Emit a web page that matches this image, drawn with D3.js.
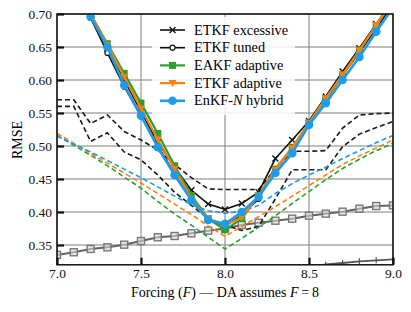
<!DOCTYPE html>
<html>
<head>
<meta charset="utf-8">
<script src="https://cdn.jsdelivr.net/npm/d3@7"></script>
<style>
  body { margin: 0; background: #fff; }
  svg text { font-family: "Liberation Serif", "DejaVu Serif", serif; }
</style>
</head>
<body>
<script>
var width = 411
var height = 312

// forcing values (x) for all series
var forcing = [7.0, 7.1, 7.2, 7.3, 7.4, 7.5, 7.6, 7.7, 7.8, 7.9, 8.0, 8.1, 8.2, 8.3, 8.4, 8.5, 8.6, 8.7, 8.8, 8.9, 9.0];

// solid lines with markers
var etkfExcessive = [0.80, 0.745, 0.697, 0.648, 0.600, 0.552, 0.505, 0.468, 0.433, 0.412, 0.404, 0.413, 0.430, 0.481, 0.509, 0.538, 0.575, 0.613, 0.648, 0.685, 0.720];
var etkfTuned     = [0.79, 0.740, 0.694, 0.641, 0.590, 0.545, 0.500, 0.458, 0.418, 0.388, 0.379, 0.395, 0.420, 0.465, 0.497, 0.535, 0.570, 0.607, 0.642, 0.678, 0.715];
var eakfAdaptive  = [0.80, 0.750, 0.700, 0.655, 0.610, 0.565, 0.519, 0.470, 0.425, 0.390, 0.373, 0.390, 0.425, 0.465, 0.498, 0.535, 0.572, 0.608, 0.645, 0.682, 0.720];
var etkfAdaptive  = [0.80, 0.750, 0.700, 0.653, 0.605, 0.557, 0.510, 0.465, 0.420, 0.390, 0.380, 0.392, 0.425, 0.464, 0.497, 0.535, 0.572, 0.608, 0.645, 0.683, 0.720];
var enkfHybrid    = [0.79, 0.745, 0.696, 0.650, 0.592, 0.546, 0.498, 0.456, 0.418, 0.388, 0.382, 0.400, 0.423, 0.459, 0.489, 0.532, 0.565, 0.600, 0.635, 0.673, 0.710];

// dashed reference lines
var blackDashA  = [0.570, 0.570, 0.534, 0.547, 0.522, 0.509, 0.494, 0.472, 0.452, 0.435, 0.434, 0.434, 0.434, 0.465, 0.492, 0.492, 0.493, 0.527, 0.547, 0.549, 0.550];
var blackDashB  = [0.560, 0.560, 0.507, 0.520, 0.491, 0.479, 0.456, 0.430, 0.410, 0.390, 0.380, 0.372, 0.378, 0.420, 0.464, 0.464, 0.464, 0.499, 0.518, 0.528, 0.537];
var greenDash   = [0.516, 0.501, 0.486, 0.470, 0.453, 0.436, 0.416, 0.397, 0.380, 0.362, 0.344, 0.360, 0.377, 0.394, 0.413, 0.431, 0.449, 0.466, 0.480, 0.493, 0.504];
var orangeDash  = [0.519, 0.504, 0.489, 0.474, 0.459, 0.444, 0.428, 0.412, 0.396, 0.379, 0.363, 0.378, 0.393, 0.408, 0.424, 0.440, 0.456, 0.472, 0.485, 0.497, 0.509];
var blueDash    = [0.515, 0.503, 0.491, 0.478, 0.465, 0.452, 0.438, 0.424, 0.411, 0.402, 0.398, 0.401, 0.410, 0.428, 0.443, 0.456, 0.468, 0.481, 0.493, 0.505, 0.516];

// gray lines
var graySquares = [0.335, 0.339, 0.344, 0.3465, 0.3505, 0.356, 0.3617, 0.3636, 0.3677, 0.3717, 0.375, 0.3803, 0.3838, 0.3868, 0.3899, 0.3944, 0.3975, 0.4005, 0.405, 0.409, 0.410];
var grayLowF = [8.4, 8.5, 8.6, 8.7, 8.8, 8.9, 9.0];
var grayLow  = [0.314, 0.317, 0.3205, 0.3227, 0.3253, 0.3268, 0.3283];

var xTicks = [7.0, 7.5, 8.0, 8.5, 9.0];
var yTicks = [0.35, 0.40, 0.45, 0.50, 0.55, 0.60, 0.65, 0.70];

var x = d3.scaleLinear().domain([7, 9]).range([57, 393]);
var y = d3.scaleLinear().domain([0.32, 0.70]).range([264.8, 14]);

var svg = d3.select("body").append("svg")
    .attr("width", width)
    .attr("height", height)

svg.append("defs").append("clipPath")
    .attr("id", "plot-clip")
  .append("rect")
    .attr("x", 57)
    .attr("y", 14)
    .attr("width", 336)
    .attr("height", 250.8)

// grid
var grid = svg.append("g")
grid.selectAll(".hgrid").data(yTicks).enter().append("line")
    .attr("x1", 57).attr("x2", 393)
    .attr("y1", d => y(d)).attr("y2", d => y(d))
    .attr("stroke", "#7f7f7f").attr("stroke-width", 1)
grid.selectAll(".vgrid").data(xTicks).enter().append("line")
    .attr("x1", d => x(d)).attr("x2", d => x(d))
    .attr("y1", 14).attr("y2", 264.8)
    .attr("stroke", "#7f7f7f").attr("stroke-width", 1)

var plot = svg.append("g").attr("clip-path", "url(#plot-clip)")

function pts(fs, vs) {
  return fs.map((f, i) => [f, vs[i]]);
}
var line = d3.line().x(d => x(d[0])).y(d => y(d[1]));

// gray lines
plot.append("path").datum(pts(forcing, graySquares))
    .attr("d", line).attr("fill", "none")
    .attr("stroke", "#636363").attr("stroke-width", 2)
plot.selectAll(".sq").data(pts(forcing, graySquares)).enter().append("rect")
    .attr("x", d => x(d[0]) - 3.5).attr("y", d => y(d[1]) - 3.5)
    .attr("width", 7).attr("height", 7)
    .attr("fill", "#d9d9d9").attr("fill-opacity", 0.6)
    .attr("stroke", "#777").attr("stroke-width", 1.4)

plot.append("path").datum(pts(grayLowF, grayLow))
    .attr("d", line).attr("fill", "none")
    .attr("stroke", "#555").attr("stroke-width", 1.8)
plot.selectAll(".pl").data(pts(grayLowF, grayLow)).enter().append("path")
    .attr("d", d => "M" + x(d[0]) + "," + (y(d[1]) - 3) + "v6")
    .attr("stroke", "#555").attr("stroke-width", 1.2)

// dashed lines
var dashed = [
  {v: blackDashA, c: "#1a1a1a"},
  {v: blackDashB, c: "#1a1a1a"},
  {v: greenDash, c: "#2ca02c"},
  {v: orangeDash, c: "#ff7f0e"},
  {v: blueDash, c: "#1e9be9"}
];
dashed.forEach(function(s) {
  plot.append("path").datum(pts(forcing, s.v))
      .attr("d", line).attr("fill", "none")
      .attr("stroke", s.c).attr("stroke-width", 1.6)
      .attr("stroke-dasharray", "5,3")
});

// marker helpers
function drawMarker(g, kind, cx, cy) {
  if (kind == "x") {
    g.append("path")
      .attr("d", "M" + (cx-3) + "," + (cy-3) + "l6,6M" + (cx-3) + "," + (cy+3) + "l6,-6")
      .attr("stroke", "#111").attr("stroke-width", 1.3)
  } else if (kind == "o") {
    g.append("circle").attr("cx", cx).attr("cy", cy).attr("r", 2.5)
      .attr("fill", "#fff").attr("stroke", "#111").attr("stroke-width", 1.2)
  } else if (kind == "s") {
    g.append("rect").attr("x", cx-3.5).attr("y", cy-3.5).attr("width", 7).attr("height", 7)
      .attr("fill", "#2ca02c")
  } else if (kind == "v") {
    g.append("path").attr("d", "M" + (cx-4) + "," + (cy-3) + "h8l-4,7z")
      .attr("fill", "#ff7f0e")
  } else if (kind == "c") {
    g.append("circle").attr("cx", cx).attr("cy", cy).attr("r", 4.3)
      .attr("fill", "#1e9be9")
  }
}

var solid = [
  {name: "ETKF excessive", v: etkfExcessive, c: "#111", w: 1.6, m: "x"},
  {name: "ETKF tuned", v: etkfTuned, c: "#111", w: 1.6, m: "o"},
  {name: "EAKF adaptive", v: eakfAdaptive, c: "#2ca02c", w: 2.2, m: "s"},
  {name: "ETKF adaptive", v: etkfAdaptive, c: "#ff7f0e", w: 2.2, m: "v"},
  {name: "EnKF-N hybrid", v: enkfHybrid, c: "#1e9be9", w: 2.6, m: "c"}
];
solid.forEach(function(s) {
  var g = plot.append("g")
  g.append("path").datum(pts(forcing, s.v))
      .attr("d", line).attr("fill", "none")
      .attr("stroke", s.c).attr("stroke-width", s.w)
  pts(forcing, s.v).forEach(d => drawMarker(g, s.m, x(d[0]), y(d[1])));
});

// frame and ticks
svg.append("rect")
    .attr("x", 57).attr("y", 14).attr("width", 336).attr("height", 250.8)
    .attr("fill", "none").attr("stroke", "#111").attr("stroke-width", 1.5)

var serif = "Liberation Serif, DejaVu Serif, serif"

var yAxis = d3.axisLeft(y).tickValues(yTicks).tickFormat(d3.format(".2f")).tickSizeInner(-7).tickSizeOuter(0).tickPadding(5)
var gy = svg.append("g").attr("transform", "translate(57,0)").call(yAxis)
    .attr("font-family", serif).attr("font-size", 13.5)
gy.select(".domain").remove()
gy.selectAll(".tick line").attr("stroke", "#111").attr("stroke-width", 2.2)
gy.selectAll("text").attr("fill", "#111")

var xAxis = d3.axisBottom(x).tickValues(xTicks).tickFormat(d3.format(".1f")).tickSizeInner(-7).tickSizeOuter(0).tickPadding(4)
var gx = svg.append("g").attr("transform", "translate(0,264.8)").call(xAxis)
    .attr("font-family", serif).attr("font-size", 13.5)
gx.select(".domain").remove()
gx.selectAll(".tick line").attr("stroke", "#111").attr("stroke-width", 2.2)
gx.selectAll("text").attr("fill", "#111")

// axis labels
svg.append("text")
    .attr("transform", "translate(22,140) rotate(-90)")
    .attr("text-anchor", "middle")
    .attr("font-size", "14px")
    .text("RMSE")

var xl = svg.append("text")
    .attr("x", 225).attr("y", 297)
    .attr("text-anchor", "middle")
    .attr("font-size", "14px")
xl.append("tspan").text("Forcing (")
xl.append("tspan").attr("font-style", "italic").text("F")
xl.append("tspan").text(") \u2014 DA assumes ")
xl.append("tspan").attr("font-style", "italic").text("F")
xl.append("tspan").text("\u2009=\u20098")

// legend
var legend = svg.append("g")
legend.append("rect")
    .attr("x", 152).attr("y", 17).attr("width", 143).attr("height", 98)
    .attr("rx", 3)
    .attr("fill", "#fff").attr("fill-opacity", 0.85)

solid.forEach(function(s, i) {
  var ly = 30 + i * 17.7
  legend.append("line")
      .attr("x1", 160).attr("x2", 185).attr("y1", ly).attr("y2", ly)
      .attr("stroke", s.c).attr("stroke-width", s.w)
  drawMarker(legend, s.m, 172.5, ly)
  var t = legend.append("text")
      .attr("x", 194).attr("y", ly + 4.5)
      .attr("font-size", "14.3px")
  if (s.name == "EnKF-N hybrid") {
    t.append("tspan").text("EnKF-")
    t.append("tspan").attr("font-style", "italic").text("N")
    t.append("tspan").text(" hybrid")
  } else {
    t.text(s.name)
  }
});
</script>
</body>
</html>
